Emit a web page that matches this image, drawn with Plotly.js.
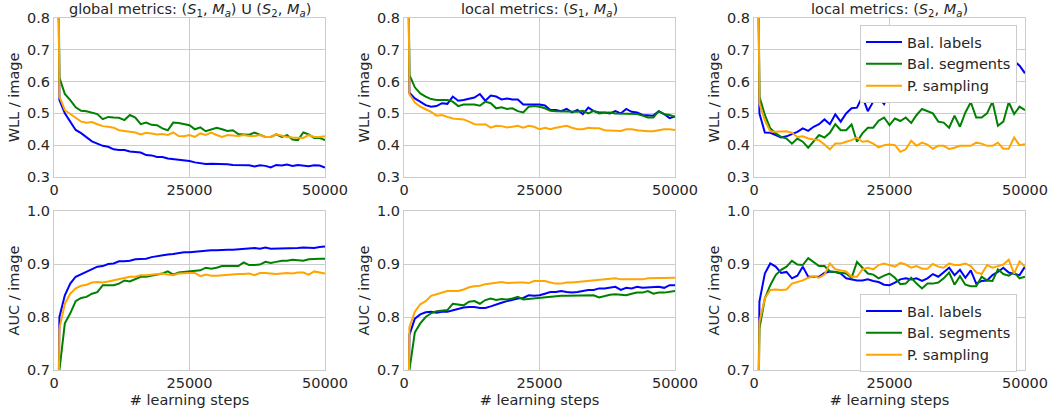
<!DOCTYPE html>
<html>
<head>
<meta charset="utf-8">
<script src="https://cdn.plot.ly/plotly-3.0.1.min.js"></script>
<style>html,body{margin:0;padding:0;background:#fff;}#chart{width:1050px;height:410px;}</style>
</head>
<body>
<div id="chart"></div>
<script>
const steps = [700,1000,2000,3000,4000,5000,6000,7000,8000,9000,10000,11000,12000,13000,14000,15000,16000,17000,18000,19000,20000,21000,22000,23000,24000,25000,26000,27000,28000,29000,30000,31000,32000,33000,34000,35000,36000,37000,38000,39000,40000,41000,42000,43000,44000,45000,46000,47000,48000,49000,50000];

const seriesNames = ["Bal. labels", "Bal. segments", "P. sampling"];
const panelTitles = [
  "global metrics: (<i>S</i><sub>1</sub>, <i>M<sub>a</sub></i>) U (<i>S</i><sub>2</sub>, <i>M<sub>a</sub></i>)",
  "local metrics: (<i>S</i><sub>1</sub>, <i>M<sub>a</sub></i>)",
  "local metrics: (<i>S</i><sub>2</sub>, <i>M<sub>a</sub></i>)"
];
const yTitleTop = "WLL / image";
const yTitleBottom = "AUC / image";
const xTitle = "# learning steps";
const xTicks = [0, 25000, 50000];
const yTicksTop = [0.3, 0.4, 0.5, 0.6, 0.7, 0.8];
const yTicksBottom = [0.7, 0.8, 0.9, 1.0];

// Panel 1: global WLL
const wllGlobalLabels = [1.2,0.542,0.50,0.474,0.448,0.438,0.426,0.412,0.405,0.398,0.395,0.387,0.385,0.385,0.380,0.378,0.377,0.369,0.368,0.363,0.363,0.358,0.356,0.354,0.353,0.350,0.346,0.343,0.341,0.342,0.342,0.342,0.340,0.338,0.337,0.337,0.337,0.333,0.337,0.335,0.330,0.338,0.336,0.339,0.335,0.338,0.336,0.334,0.337,0.336,0.330];
const wllGlobalSegments = [1.2,0.613,0.561,0.542,0.519,0.508,0.507,0.503,0.498,0.482,0.489,0.487,0.486,0.479,0.495,0.487,0.466,0.471,0.464,0.463,0.453,0.447,0.471,0.470,0.466,0.463,0.450,0.456,0.444,0.450,0.455,0.450,0.445,0.447,0.435,0.434,0.433,0.440,0.432,0.426,0.426,0.434,0.426,0.432,0.418,0.416,0.440,0.434,0.423,0.423,0.416];
const wllGlobalSampling = [1.2,0.553,0.510,0.498,0.484,0.474,0.471,0.473,0.466,0.460,0.458,0.455,0.447,0.444,0.442,0.440,0.434,0.439,0.437,0.434,0.435,0.432,0.440,0.429,0.428,0.432,0.426,0.437,0.432,0.440,0.432,0.426,0.432,0.430,0.429,0.432,0.429,0.429,0.432,0.426,0.426,0.434,0.429,0.426,0.424,0.423,0.423,0.432,0.426,0.426,0.428];

// Panel 2: local S1 WLL
const wllS1Labels = [1.2,0.565,0.547,0.537,0.526,0.521,0.523,0.532,0.530,0.553,0.540,0.542,0.547,0.550,0.561,0.540,0.556,0.553,0.544,0.547,0.544,0.544,0.528,0.528,0.528,0.528,0.525,0.511,0.511,0.507,0.514,0.503,0.511,0.498,0.518,0.507,0.503,0.503,0.500,0.507,0.500,0.514,0.505,0.503,0.495,0.495,0.493,0.507,0.498,0.485,0.490];
const wllS1Segments = [1.2,0.621,0.582,0.563,0.553,0.545,0.542,0.542,0.542,0.537,0.523,0.528,0.528,0.528,0.524,0.537,0.532,0.516,0.519,0.514,0.516,0.507,0.503,0.521,0.523,0.521,0.516,0.508,0.507,0.507,0.507,0.505,0.505,0.508,0.500,0.508,0.500,0.502,0.503,0.500,0.500,0.498,0.498,0.498,0.493,0.487,0.487,0.507,0.497,0.495,0.489];
const wllS1Sampling = [1.2,0.560,0.534,0.521,0.513,0.505,0.493,0.495,0.489,0.484,0.482,0.481,0.474,0.466,0.465,0.466,0.455,0.461,0.460,0.456,0.458,0.461,0.455,0.461,0.458,0.450,0.455,0.450,0.455,0.458,0.461,0.455,0.450,0.450,0.455,0.453,0.453,0.447,0.447,0.447,0.445,0.450,0.450,0.447,0.445,0.444,0.444,0.447,0.450,0.450,0.448];

// Panel 3: local S2 WLL (blue partly hidden behind legend)
const wllS2Labels = [1.2,0.500,0.440,0.439,0.432,0.424,0.428,0.435,0.442,0.453,0.445,0.458,0.466,0.481,0.466,0.497,0.474,0.500,0.516,0.518,0.553,0.507,0.537,0.550,0.529,0.568,0.578,0.585,0.592,0.588,0.602,0.610,0.603,0.618,0.615,0.628,0.624,0.638,0.634,0.648,0.645,0.654,0.650,0.660,0.656,0.664,0.660,0.668,0.665,0.650,0.626];
const wllS2Segments = [1.2,0.553,0.495,0.453,0.437,0.426,0.421,0.405,0.421,0.411,0.392,0.411,0.432,0.424,0.439,0.466,0.447,0.447,0.465,0.411,0.437,0.455,0.455,0.477,0.487,0.463,0.484,0.476,0.487,0.470,0.495,0.514,0.507,0.500,0.474,0.471,0.455,0.493,0.458,0.503,0.535,0.487,0.487,0.500,0.537,0.461,0.474,0.535,0.498,0.521,0.510];
const wllS2Sampling = [1.2,0.532,0.477,0.444,0.442,0.444,0.444,0.439,0.426,0.428,0.421,0.418,0.416,0.402,0.387,0.405,0.405,0.411,0.416,0.424,0.411,0.413,0.405,0.393,0.400,0.402,0.400,0.379,0.387,0.414,0.398,0.408,0.402,0.389,0.398,0.398,0.388,0.392,0.398,0.398,0.398,0.408,0.405,0.398,0.398,0.408,0.389,0.389,0.424,0.400,0.403];

// Panel 4: global AUC
const aucGlobalLabels = [0.5,0.800,0.841,0.863,0.876,0.881,0.885,0.890,0.895,0.896,0.900,0.901,0.905,0.905,0.906,0.909,0.909,0.910,0.913,0.915,0.917,0.918,0.919,0.921,0.922,0.922,0.923,0.925,0.926,0.926,0.926,0.927,0.927,0.927,0.928,0.928,0.929,0.930,0.929,0.931,0.929,0.929,0.929,0.930,0.930,0.930,0.931,0.930,0.930,0.932,0.933];
const aucGlobalSegments = [0.5,0.700,0.788,0.807,0.830,0.836,0.838,0.844,0.847,0.860,0.860,0.860,0.863,0.869,0.867,0.871,0.876,0.876,0.878,0.880,0.882,0.886,0.880,0.884,0.885,0.885,0.886,0.888,0.893,0.891,0.893,0.896,0.896,0.896,0.896,0.903,0.898,0.898,0.899,0.904,0.902,0.904,0.906,0.906,0.908,0.907,0.906,0.909,0.910,0.910,0.910];
const aucGlobalSampling = [0.5,0.778,0.825,0.844,0.854,0.859,0.861,0.865,0.866,0.865,0.867,0.869,0.871,0.873,0.876,0.876,0.879,0.879,0.880,0.880,0.882,0.880,0.879,0.882,0.883,0.883,0.883,0.877,0.880,0.878,0.878,0.879,0.879,0.880,0.881,0.881,0.882,0.879,0.883,0.883,0.882,0.881,0.882,0.883,0.882,0.884,0.884,0.880,0.886,0.884,0.882];

// Panel 5: local S1 AUC
const aucS1Labels = [0.5,0.766,0.797,0.805,0.809,0.810,0.808,0.810,0.810,0.813,0.816,0.818,0.819,0.819,0.817,0.817,0.820,0.824,0.827,0.830,0.833,0.835,0.836,0.841,0.840,0.841,0.844,0.847,0.847,0.849,0.847,0.846,0.847,0.849,0.851,0.851,0.854,0.854,0.855,0.857,0.851,0.855,0.854,0.857,0.855,0.856,0.856,0.857,0.855,0.860,0.860];
const aucS1Segments = [0.5,0.700,0.771,0.788,0.800,0.807,0.811,0.812,0.813,0.825,0.824,0.822,0.829,0.830,0.825,0.832,0.835,0.832,0.834,0.833,0.835,0.838,0.833,0.834,0.835,0.836,0.838,0.839,0.840,0.840,0.840,0.840,0.841,0.840,0.841,0.841,0.837,0.840,0.842,0.843,0.842,0.841,0.844,0.846,0.846,0.849,0.844,0.846,0.846,0.847,0.849];
const aucS1Sampling = [0.5,0.781,0.810,0.824,0.830,0.840,0.843,0.846,0.849,0.849,0.849,0.852,0.856,0.858,0.859,0.862,0.863,0.864,0.866,0.864,0.865,0.865,0.865,0.864,0.868,0.868,0.868,0.865,0.863,0.863,0.865,0.865,0.866,0.866,0.868,0.869,0.869,0.871,0.871,0.873,0.871,0.871,0.871,0.871,0.871,0.873,0.873,0.874,0.873,0.874,0.874];

// Panel 6: local S2 AUC
const aucS2Labels = [0.5,0.829,0.882,0.901,0.895,0.883,0.885,0.873,0.878,0.895,0.876,0.876,0.876,0.883,0.886,0.885,0.882,0.873,0.871,0.869,0.869,0.871,0.868,0.866,0.861,0.860,0.865,0.871,0.873,0.871,0.873,0.868,0.873,0.881,0.876,0.885,0.893,0.879,0.889,0.874,0.888,0.863,0.868,0.869,0.879,0.885,0.893,0.884,0.882,0.879,0.895];
const aucS2Segments = [0.5,0.778,0.835,0.860,0.879,0.889,0.895,0.906,0.899,0.898,0.911,0.904,0.896,0.896,0.886,0.885,0.884,0.882,0.874,0.904,0.893,0.882,0.880,0.873,0.878,0.882,0.874,0.862,0.863,0.874,0.863,0.854,0.863,0.863,0.865,0.873,0.884,0.861,0.877,0.861,0.858,0.858,0.876,0.869,0.868,0.890,0.881,0.878,0.884,0.873,0.876];
const aucS2Sampling = [0.5,0.791,0.835,0.851,0.852,0.851,0.852,0.863,0.866,0.869,0.874,0.877,0.874,0.880,0.901,0.890,0.888,0.886,0.876,0.876,0.890,0.893,0.890,0.898,0.901,0.898,0.895,0.902,0.899,0.893,0.896,0.891,0.891,0.900,0.895,0.893,0.901,0.898,0.898,0.901,0.896,0.884,0.881,0.898,0.893,0.896,0.899,0.908,0.882,0.905,0.895];

const colors = ["#0000ff", "#008000", "#ffa500"];
const panels = [
  [wllGlobalLabels, wllGlobalSegments, wllGlobalSampling],
  [wllS1Labels, wllS1Segments, wllS1Sampling],
  [wllS2Labels, wllS2Segments, wllS2Sampling],
  [aucGlobalLabels, aucGlobalSegments, aucGlobalSampling],
  [aucS1Labels, aucS1Segments, aucS1Sampling],
  [aucS2Labels, aucS2Segments, aucS2Sampling]
];

const traces = [];
panels.forEach((p, i) => {
  const n = i + 1;
  p.forEach((vals, j) => {
    const t = {
      x: steps, y: vals, type: 'scatter', mode: 'lines',
      name: seriesNames[j],
      line: {color: colors[j], width: 2},
      xaxis: 'x' + (n === 1 ? '' : n), yaxis: 'y' + (n === 1 ? '' : n),
      showlegend: (n === 3 || n === 6),
      hoverinfo: 'skip'
    };
    if (n === 6) t.legend = 'legend2';
    traces.push(t);
  });
});

const txt = '#262626';
const grid = '#cccccc';
const FS = 14.5;
const fam = 'DejaVu Sans, sans-serif';
const font = {family: fam, size: FS, color: txt};
const xDomains = [[54/1050, 325/1050], [404/1050, 675/1050], [754/1050, 1025/1050]];
const yDomTop = [1 - 177/410, 1 - 18/410];
const yDomBot = [1 - 370/410, 1 - 211/410];

function legendCfg(topPx) {
  return {
    x: 860/1050, y: 1 - topPx/410, xanchor: 'left', yanchor: 'top',
    bgcolor: '#ffffff', bordercolor: grid, borderwidth: 1,
    font: {family: fam, size: FS, color: txt},
    tracegroupgap: 0, itemwidth: 36
  };
}

const layout = {
  width: 1050, height: 410,
  margin: {l: 0, r: 0, t: 0, b: 0},
  paper_bgcolor: '#ffffff', plot_bgcolor: '#ffffff',
  font: font,
  showlegend: true,
  legend: legendCfg(25),
  legend2: legendCfg(294),
  annotations: []
};

for (let i = 0; i < 6; i++) {
  const n = i + 1;
  const col = i % 3;
  const top = i < 3;
  const xa = {
    domain: xDomains[col], range: [0, 50000], anchor: 'y' + (n === 1 ? '' : n),
    tickvals: xTicks, ticktext: xTicks.map(String),
    showgrid: true, gridcolor: grid, gridwidth: 1,
    showline: true, linecolor: grid, linewidth: 1, mirror: true,
    zeroline: false, ticks: '', ticklen: 0,
    tickfont: {family: fam, size: FS, color: txt},
    fixedrange: true
  };
  if (!top) xa.title = {text: xTitle, font: {family: fam, size: FS, color: txt}, standoff: 4};
  const ya = {
    domain: top ? yDomTop : yDomBot,
    range: top ? [0.3, 0.8] : [0.7, 1.0],
    anchor: 'x' + (n === 1 ? '' : n),
    tickvals: top ? yTicksTop : yTicksBottom,
    ticktext: (top ? yTicksTop : yTicksBottom).map(v => v.toFixed(1)),
    showgrid: true, gridcolor: grid, gridwidth: 1,
    showline: true, linecolor: grid, linewidth: 1, mirror: true,
    zeroline: false, ticks: '', ticklen: 0,
    tickfont: {family: fam, size: FS, color: txt},
    title: {text: top ? yTitleTop : yTitleBottom, font: {family: fam, size: FS, color: txt}, standoff: 3},
    fixedrange: true
  };
  layout['xaxis' + (n === 1 ? '' : n)] = xa;
  layout['yaxis' + (n === 1 ? '' : n)] = ya;
}

panelTitles.forEach((t, i) => {
  layout.annotations.push({
    text: t, xref: 'paper', yref: 'paper',
    x: (xDomains[i][0] + xDomains[i][1]) / 2, y: yDomTop[1],
    xanchor: 'center', yanchor: 'bottom', showarrow: false,
    font: {family: fam, size: FS, color: txt}, yshift: -3
  });
});

Plotly.newPlot('chart', traces, layout, {displayModeBar: false, staticPlot: true});
</script>
</body>
</html>
